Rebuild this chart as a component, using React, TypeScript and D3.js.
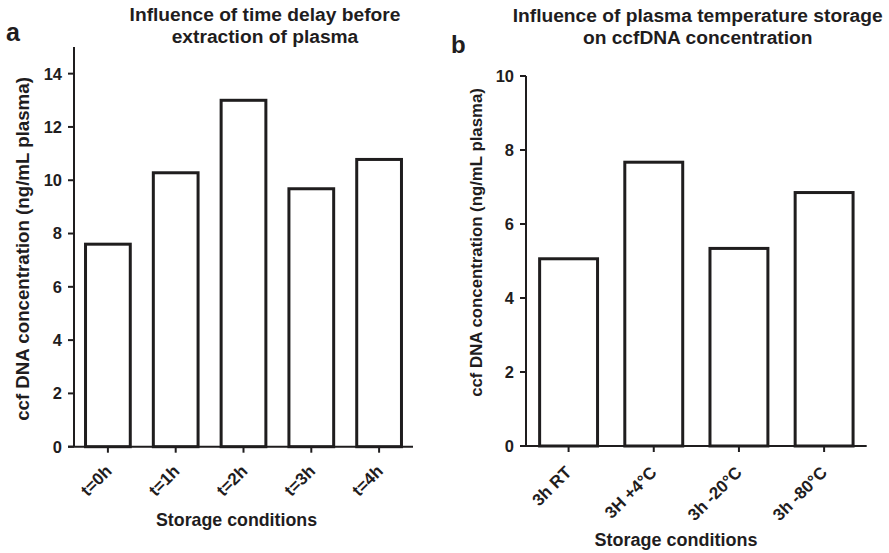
import React from "react";
import * as d3 from "d3";

const catsA = ["t=0h", "t=1h", "t=2h", "t=3h", "t=4h"];
const valsA = [7.6, 10.28, 13.0, 9.68, 10.78];
const ticksA = [0, 2, 4, 6, 8, 10, 12, 14];
const titleA = ["Influence of time delay before", "extraction of plasma"];

const catsB = ["3h RT", "3H +4°C", "3h -20°C", "3h -80°C"];
const valsB = [5.06, 7.67, 5.34, 6.85];
const ticksB = [0, 2, 4, 6, 8, 10];
const titleB = ["Influence of plasma temperature storage", "on ccfDNA concentration"];

const yLabel = "ccf DNA concentration (ng/mL plasma)";
const xLabel = "Storage conditions";
const INK = "#1f1d1e";
const FONT = "'Liberation Sans', Arial, Helvetica, sans-serif";

type PanelProps = {
  letter: string;
  letterPos: [number, number];
  letterSize: number;
  title: string[];
  titleX: number;
  titleY: number;
  cats: string[];
  vals: number[];
  ticks: number[];
  yMax: number;
  x0: number;
  x1: number;
  y0: number;
  y1: number;
  pad: number;
  yLabelX: number;
  yLabelY: number;
  yLabelSize: number;
  xTickSize: number;
  xTickOff: [number, number];
  xLabelPos: [number, number];
  xLabelSize: number;
};

function Panel(p: PanelProps) {
  const x = d3.scaleBand<string>().domain(p.cats).range([p.x0, p.x1]).paddingInner(p.pad).paddingOuter(p.pad / 2);
  const y = d3.scaleLinear().domain([0, p.yMax]).range([p.y0, p.y1]);
  return (
    <g fontFamily={FONT} fill={INK}>
      <text x={p.letterPos[0]} y={p.letterPos[1]} fontSize={p.letterSize} fontWeight="bold">{p.letter}</text>
      {p.title.map((t, i) => (
        <text key={i} x={p.titleX} y={p.titleY + i * 22} fontSize={19.2} fontWeight="bold" textAnchor="middle">{t}</text>
      ))}
      {p.cats.map((c, i) => (
        <rect key={c} x={x(c)!} y={y(p.vals[i])} width={x.bandwidth()} height={p.y0 - y(p.vals[i])}
          fill="white" stroke={INK} strokeWidth={3} />
      ))}
      <line x1={p.x0} x2={p.x0} y1={p.y0} y2={p.y1} stroke={INK} strokeWidth={2} />
      <line x1={p.x0 - 6} x2={p.x1} y1={p.y0} y2={p.y0} stroke={INK} strokeWidth={2} />
      {p.ticks.map((t) => (
        <g key={t}>
          <line x1={p.x0 - 6} x2={p.x0} y1={y(t)} y2={y(t)} stroke={INK} strokeWidth={2} />
          <text x={p.x0 - 12} y={y(t)} dy="0.36em" fontSize={16.5} fontWeight="bold" textAnchor="end">{t}</text>
        </g>
      ))}
      {p.cats.map((c) => {
        const cx = x(c)! + x.bandwidth() / 2;
        return (
          <g key={c}>
            <line x1={cx} x2={cx} y1={p.y0} y2={p.y0 + 6} stroke={INK} strokeWidth={2} />
            <text transform={`translate(${cx + p.xTickOff[0]},${p.y0 + p.xTickOff[1]}) rotate(-45)`} fontSize={p.xTickSize} fontWeight="bold" textAnchor="end">{c}</text>
          </g>
        );
      })}
      <text transform={`translate(${p.yLabelX},${p.yLabelY}) rotate(-90)`} fontSize={p.yLabelSize} fontWeight="bold" textAnchor="middle">{yLabel}</text>
      <text x={p.xLabelPos[0]} y={p.xLabelPos[1]} fontSize={p.xLabelSize} fontWeight="bold" textAnchor="middle">{xLabel}</text>
    </g>
  );
}

export default function App() {
  return (
    <svg width={889} height={553} style={{ position: "absolute", left: 0, top: 0, background: "white" }}>
      <rect width={889} height={553} fill="white" />
      <Panel letter="a" letterPos={[6, 40.5]} letterSize={25} title={titleA} titleX={265} titleY={21}
        cats={catsA} vals={valsA} ticks={ticksA} yMax={15}
        x0={74} x1={413} y0={446.7} y1={47} pad={0.34}
        yLabelX={28.5} yLabelY={249} yLabelSize={18.7}
        xTickSize={17} xTickOff={[5, 25.5]}
        xLabelPos={[236.5, 526]} xLabelSize={17.8} />
      <Panel letter="b" letterPos={[451, 53]} letterSize={24} title={titleB} titleX={697.7} titleY={21.5}
        cats={catsB} vals={valsB} ticks={ticksB} yMax={10}
        x0={526} x1={866.7} y0={446} y1={76} pad={0.32}
        yLabelX={482} yLabelY={242.5} yLabelSize={16.8}
        xTickSize={17} xTickOff={[4, 27.5]}
        xLabelPos={[676, 546]} xLabelSize={18} />
    </svg>
  );
}
